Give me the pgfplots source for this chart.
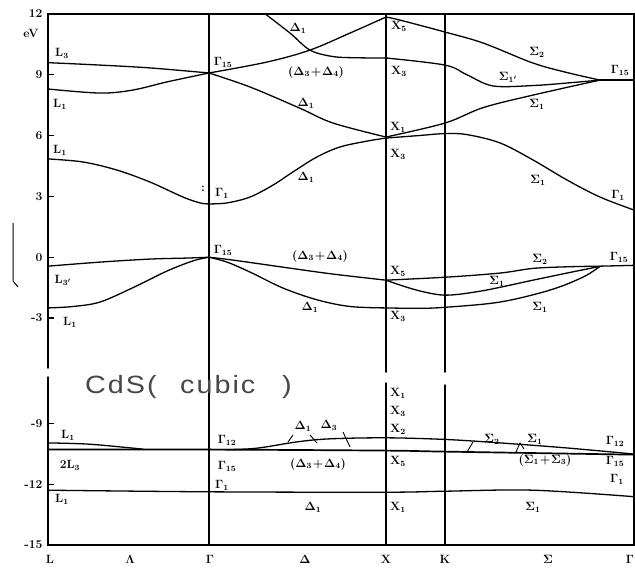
\documentclass[border=0pt]{standalone}
\usepackage{pgfplots}
\pgfplotsset{compat=1.18}
\usepackage{fontspec}
\newfontfamily\cdsfont[FakeStretch=1.15,LetterSpace=8]{Liberation Sans}
\newcommand\lb[1]{{\boldmath$#1$}}

\begin{document}
\begin{tikzpicture}
\pgfplotsset{
  band/.style={black, line width=1.3pt, smooth, tension=0.55, no marks},
  panel/.style={scale only axis, width=586pt, xmin=0, xmax=586,
    axis line style={draw=none}, xtick=\empty, ytick pos=left,
    tick align=inside, major tick length=6pt,
    tick style={black, line width=1.2pt},
    yticklabel style={font=\fontsize{12}{13}\selectfont\bfseries, xshift=-2pt}},
}

% ---------- upper panel: valence and conduction bands ----------
\begin{axis}[panel, at={(48pt,-368pt)}, anchor=south west, height=354pt,
  ymin=-5.464, ymax=12,
  ytick={-3,0,3,6,9,12}, yticklabels={-3,0,3,6,9,12}]
% L - Gamma - X - K - Gamma, x in path length units
% lowest valence band
\addplot[band] coordinates {(0,-2.50) (25,-2.43) (52,-2.21) (85,-1.50) (119,-0.68) (145,-0.18) (161,0)};
\addplot[band] coordinates {(161,0) (179,-0.24) (202,-0.73) (235,-1.52) (269,-2.10) (302,-2.43) (338,-2.50)};
\addplot[band] coordinates {(338,-2.50) (370,-2.52) (397,-2.47) (452,-2.21) (502,-1.62) (535,-0.98) (552,-0.45)};
% upper valence bands
\addplot[band] coordinates {(0,-0.44) (52,-0.24) (102,-0.09) (139,-0.04) (161,0)};
\addplot[band] coordinates {(161,0) (185,-0.14) (235,-0.49) (285,-0.83) (338,-1.13)};
\addplot[band] coordinates {(338,-1.13) (399,-0.98) (452,-0.78) (485,-0.55) (520,-0.47) (552,-0.44)};
\addplot[band] coordinates {(338,-1.13) (355,-1.42) (375,-1.70) (399,-1.87) (435,-1.65) (485,-1.13) (519,-0.78) (552,-0.45)};
\addplot[band] coordinates {(552,-0.44) (586,-0.40)};
% lowest conduction band
\addplot[band] coordinates {(0,4.85) (35,4.70) (69,4.30) (102,3.71) (135,2.97) (152,2.68) (161,2.63)};
\addplot[band] coordinates {(161,2.63) (179,2.68) (202,2.97) (225,3.56) (245,4.21) (269,4.95) (292,5.44) (319,5.73) (338,5.88)};
\addplot[band] coordinates {(338,5.88) (370,6.00) (397,6.10) (419,6.05) (452,5.64) (485,4.80) (519,3.81) (552,2.97) (586,2.33)};
% higher conduction bands
\addplot[band] coordinates {(0,8.30) (52,8.10) (85,8.25) (119,8.65) (161,9.09)};
\addplot[band] coordinates {(161,9.09) (202,8.40) (252,7.35) (285,6.62) (338,5.93)};
\addplot[band] coordinates {(338,5.93) (397,6.62) (435,7.38) (485,8.00) (552,8.74)};
\addplot[band] coordinates {(552,8.74) (586,8.74)};
\addplot[band] coordinates {(0,9.60) (52,9.48) (102,9.34) (161,9.09)};
\addplot[band] coordinates {(161,9.09) (219,9.63) (262,10.22) (302,11.06) (338,11.85)};
\addplot[band] coordinates {(338,11.85) (352,11.70) (397,11.11) (435,10.57) (485,9.58) (520,9.10) (552,8.74)};
\addplot[band] coordinates {(216,12.05) (242,11.06) (262,10.22) (285,9.90) (310,9.84) (338,9.83)};
\addplot[band] coordinates {(338,9.83) (397,9.48) (419,9.00) (445,8.45) (485,8.47) (520,8.60) (552,8.74)};
\end{axis}

% ---------- lower panel: semicore d bands and s band ----------
\begin{axis}[panel, at={(48pt,-545pt)}, anchor=south west, height=165pt,
  ymin=-15, ymax=-6.872,
  ytick={-15,-12,-9}, yticklabels={-15,-12,-9}]
\addplot[band] coordinates {(0,-9.97) (40,-10.03) (79,-10.20) (95,-10.28)};
\addplot[band, line width=1.7pt] coordinates {(0,-10.30) (161,-10.30) (338,-10.35) (397,-10.40) (586,-10.55)};
\addplot[band] coordinates {(161,-10.30) (205,-10.25) (249,-9.92) (282,-9.77) (338,-9.72) (397,-9.80) (452,-9.97) (519,-10.22) (586,-10.52)};
\addplot[band] coordinates {(0,-12.30) (161,-12.38) (338,-12.40) (397,-12.35) (485,-12.30) (586,-12.62)};
\end{axis}

\begin{scope}[x=1pt,y=-1pt,
  lab/.style={font=\fontsize{12}{13}\selectfont\bfseries, inner sep=0pt},
  frm/.style={line width=1.5pt, line cap=round},
  ptr/.style={line width=0.9pt}]
\useasboundingbox (0,0) rectangle (635,573);

% frame and symmetry-point lines
\draw[frm] (48,368) -- (48,14) -- (634,14) -- (634,545) -- (48,545) -- (48,377);
\draw[frm] (209,14) -- (209,545);
\draw[frm] (386,14) -- (386,372) (386,383) -- (386,545);
\draw[frm] (445,14) -- (445,372) (445,385) -- (445,545);
\draw[line width=1pt] (13,223) -- (13,281) -- (18,287);

\node[lab] at (31,33) {eV};

% upper panel labels
\node[lab] at (62,53) {\lb{\mathbf{L}_3}};
\node[lab] at (223,62) {\lb{\Gamma_{15}}};
\node[lab] at (60,104) {\lb{\mathbf{L}_1}};
\node[lab] at (60,150) {\lb{\mathbf{L}_1}};
\node[lab] at (298,28) {\lb{\Delta_1}};
\node[lab] at (316,72) {\lb{(\Delta_3\!+\!\Delta_4)}};
\node[lab] at (306,103) {\lb{\Delta_1}};
\node[lab] at (306,177) {\lb{\Delta_1}};
\node[lab] at (203,189) {:};
\node[lab] at (222,193) {\lb{\Gamma_1}};
\node[lab] at (399,26) {\lb{\mathbf{X}_5}};
\node[lab] at (399,71) {\lb{\mathbf{X}_3}};
\node[lab] at (398,127) {\lb{\mathbf{X}_1}};
\node[lab] at (398,154) {\lb{\mathbf{X}_3}};
\node[lab] at (537,52) {\lb{\Sigma_2}};
\node[lab] at (508,77) {\lb{\Sigma_{1'}}};
\node[lab] at (537,104) {\lb{\Sigma_1}};
\node[lab] at (620,70) {\lb{\Gamma_{15}}};
\node[lab] at (538,180) {\lb{\Sigma_1}};
\node[lab] at (618,195) {\lb{\Gamma_1}};
\node[lab] at (223,250) {\lb{\Gamma_{15}}};
\node[lab] at (63,280) {\lb{\mathbf{L}_{3'}}};
\node[lab] at (70,322) {\lb{\mathbf{L}_1}};
\node[lab] at (320,256) {\lb{(\Delta_3\!+\!\Delta_4)}};
\node[lab] at (310,307) {\lb{\Delta_1}};
\node[lab] at (398,271) {\lb{\mathbf{X}_5}};
\node[lab] at (398,316) {\lb{\mathbf{X}_3}};
\node[lab] at (540,259) {\lb{\Sigma_2}};
\node[lab] at (497,281) {\lb{\Sigma_1}};
\node[lab] at (540,307) {\lb{\Sigma_1}};
\node[lab] at (619,257) {\lb{\Gamma_{15}}};

% compound name
\begin{scope}[every node/.style={anchor=base west, inner sep=0pt, text=black!72,
    font=\cdsfont\fontsize{25}{28}\selectfont}]
\node at (85,393) {CdS(};
\node at (180,393) {cubic};
\node at (282,393) {)};
\end{scope}

% lower panel labels
\node[lab] at (68,435) {\lb{\mathbf{L}_1}};
\node[lab] at (70,465) {\lb{2\mathbf{L}_3}};
\node[lab] at (62,499) {\lb{\mathbf{L}_1}};
\node[lab] at (227,440) {\lb{\Gamma_{12}}};
\node[lab] at (227,466) {\lb{\Gamma_{15}}};
\node[lab] at (222,485) {\lb{\Gamma_1}};
\node[lab] at (303,426) {\lb{\Delta_1}};
\draw[ptr] (293,435) -- (288,442) (310,435) -- (317,443);
\node[lab] at (329,425) {\lb{\Delta_3}};
\draw[ptr] (343,432) -- (350,447);
\node[lab] at (318,464) {\lb{(\Delta_3\!+\!\Delta_4)}};
\node[lab] at (313,507) {\lb{\Delta_1}};
\node[lab] at (398,393) {\lb{\mathbf{X}_1}};
\node[lab] at (398,411) {\lb{\mathbf{X}_3}};
\node[lab] at (398,429) {\lb{\mathbf{X}_2}};
\node[lab] at (398,461) {\lb{\mathbf{X}_5}};
\node[lab] at (398,507) {\lb{\mathbf{X}_1}};
\node[lab] at (492,439) {\lb{\Sigma_2}};
\draw[ptr] (467,452) -- (473,442);
\node[lab] at (535,439) {\lb{\Sigma_1}};
\draw[ptr] (516,452) -- (520,443) -- (524,449);
\node[lab] at (615,441) {\lb{\Gamma_{12}}};
\node[lab] at (545,460) {\lb{(\Sigma_1\!+\!\Sigma_3)}};
\node[lab] at (615,461) {\lb{\Gamma_{15}}};
\node[lab] at (617,479) {\lb{\Gamma_1}};
\node[lab] at (533,507) {\lb{\Sigma_1}};

% symmetry points along the path
\foreach \xp/\nm in {50/\mathbf{L}, 130/\Lambda, 210/\Gamma, 305/\Delta, 386/\mathbf{X}, 445/\mathbf{K}, 548/\Sigma, 630/\Gamma}
  \node[lab] at (\xp,559) {\lb{\nm}};
\end{scope}
\end{tikzpicture}
\end{document}
